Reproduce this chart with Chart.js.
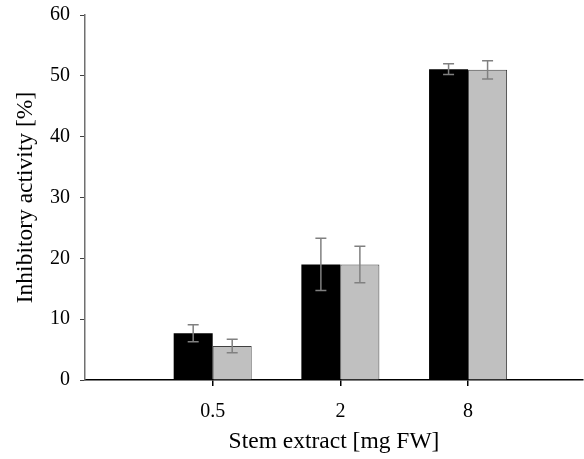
<!DOCTYPE html>
<html>
<head>
<meta charset="utf-8">
<script src="https://cdn.jsdelivr.net/npm/chart.js@4"></script>
<style>
  body { margin: 0; background: #fff; }
</style>
</head>
<body>
<canvas id="chart" width="584" height="459"></canvas>
<script>
const categories = ['0.5', '2', '8'];
const positions = [1, 2, 3];
const blackValues = [7.7, 19.0, 51.1];
const blackErrors = [1.4, 4.3, 0.9];
const greyValues = [5.6, 19.0, 51.0];
const greyErrors = [1.1, 3.0, 1.5];
const errorSets = [blackErrors, greyErrors];

const FONT = "'Liberation Serif', 'Times New Roman', serif";

// whiskers on top of the bars
const errorBars = {
  id: 'errorBars',
  afterDatasetsDraw(chart) {
    const ctx = chart.ctx;
    const y = chart.scales.y;
    ctx.save();
    ctx.strokeStyle = '#808080';
    ctx.lineWidth = 1.5;
    chart.data.datasets.forEach((ds, i) => {
      const meta = chart.getDatasetMeta(i);
      meta.data.forEach((bar, j) => {
        const v = ds.data[j].y;
        const e = errorSets[i][j];
        const top = y.getPixelForValue(v + e);
        const bot = y.getPixelForValue(v - e);
        ctx.beginPath();
        ctx.moveTo(bar.x, top); ctx.lineTo(bar.x, bot);
        ctx.moveTo(bar.x - 5.5, top); ctx.lineTo(bar.x + 5.5, top);
        ctx.moveTo(bar.x - 5.5, bot); ctx.lineTo(bar.x + 5.5, bot);
        ctx.stroke();
      });
    });
    ctx.restore();
  }
};

new Chart(document.getElementById('chart'), {
  type: 'bar',
  data: {
    datasets: [{
      label: 'black',
      data: positions.map((p, i) => ({ x: p, y: blackValues[i] })),
      backgroundColor: '#000000',
      borderWidth: 0,
      categoryPercentage: 0.611,
      barPercentage: 1.0
    }, {
      label: 'grey',
      data: positions.map((p, i) => ({ x: p, y: greyValues[i] })),
      backgroundColor: '#c0c0c0',
      borderColor: '#404040',
      borderWidth: 1,
      categoryPercentage: 0.611,
      barPercentage: 1.0
    }]
  },
  options: {
    responsive: false,
    animation: false,
    layout: { padding: { left: 0, right: 1, top: 15, bottom: 0 } },
    plugins: { legend: { display: false }, tooltip: { enabled: false } },
    scales: {
      x: {
        type: 'linear',
        min: 0,
        max: 3.9,
        offset: false,
        afterBuildTicks: (s) => { s.ticks = positions.map(v => ({ value: v })); },
        afterFit: (s) => { s.height = 79; s.paddingLeft = 0; s.paddingRight = 0; },
        grid: {
          offset: false,
          drawOnChartArea: false,
          drawTicks: true,
          tickLength: 6,
          color: '#000',
          tickColor: '#000',
          lineWidth: 1.5,
          tickWidth: 1.5
        },
        border: { color: '#000', width: 1.5 },
        ticks: {
          padding: 14,
          color: '#000',
          font: { family: FONT, size: 20 },
          callback: (v) => categories[positions.indexOf(v)]
        },
        title: {
          display: true,
          text: 'Stem extract [mg FW]',
          color: '#000',
          font: { family: FONT, size: 23.5 },
          padding: { top: 0, bottom: 3 }
        }
      },
      y: {
        min: 0,
        max: 60,
        afterFit: (s) => { s.width = 85; s.paddingTop = 0; s.paddingBottom = 0; },
        grid: { drawOnChartArea: false, drawTicks: true, tickLength: 5, color: '#404040' },
        border: { color: '#707070', width: 1.5 },
        ticks: {
          stepSize: 10,
          padding: 10,
          color: '#000',
          font: { family: FONT, size: 20 }
        },
        title: {
          display: true,
          text: 'Inhibitory activity [%]',
          color: '#000',
          font: { family: FONT, size: 23.5 },
          padding: { top: 12, bottom: 0 }
        }
      }
    }
  },
  plugins: [errorBars]
});
</script>
</body>
</html>
